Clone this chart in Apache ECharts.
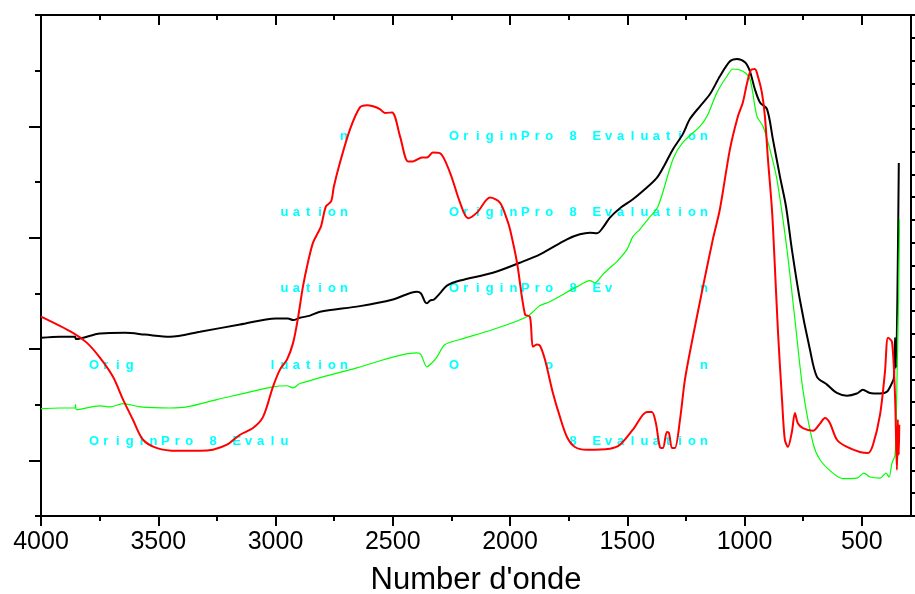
<!DOCTYPE html>
<html>
<head>
<meta charset="utf-8">
<script src="https://cdn.jsdelivr.net/npm/echarts@6/dist/echarts.min.js"></script>
<style>
html,body{margin:0;padding:0;background:#fff;}
#chart{width:915px;height:594px;}
</style>
</head>
<body>
<div id="chart"></div>
<script>
// Wavenumbers (cm-1) and signal values (arbitrary units, 0-90 full scale)
const blackWn = [4000,3919,3855,3851,3748,3642,3557,3450,3322,3151,2998,2947,2925,2896,2853,2810,2640,2499,2397,2380,2363,2354,2341,2324,2299,2269,2213,2073,1958,1872,1757,1702,1659,1629,1604,1574,1531,1476,1425,1373,1339,1305,1263,1233,1190,1147,1105,1062,1032,998,977,956,934,904,879,849,823,798,764,721,691,648,606,563,521,495,465,422,393,371,363,358,354,342];
const blackVal = [32.0,32.2,32.2,31.8,32.8,32.9,32.6,32.2,33.1,34.4,35.5,35.5,35.2,35.6,36.0,36.7,37.7,38.9,40.3,40.0,38.5,38.2,38.7,38.9,40.0,41.4,42.3,43.7,45.5,47.0,49.7,50.6,50.9,50.8,51.8,53.6,55.3,56.9,58.7,60.8,63.2,65.9,68.6,71.3,73.6,75.8,79.0,81.7,82.1,81.5,79.9,76.7,74.3,73.1,67.7,61.0,55.6,47.9,38.9,29.9,25.0,23.6,22.1,21.6,22.0,22.7,22.1,22.0,22.3,23.9,24.8,32.0,26.6,63.4];

const greenWn = [4000,3919,3855,3853,3849,3748,3706,3650,3578,3450,3377,3250,3011,2951,2925,2896,2653,2397,2380,2354,2333,2311,2277,2213,2073,1928,1872,1830,1714,1659,1638,1604,1574,1544,1501,1476,1446,1412,1369,1305,1263,1190,1160,1117,1075,1049,1007,977,947,921,892,862,819,785,751,708,678,623,580,521,491,465,422,397,384,371,358,350,342,339];
const greenVal = [19.3,19.4,19.4,20.0,19.1,19.8,19.6,20.2,19.6,19.4,19.6,20.9,23.2,23.4,23.0,23.8,26.6,29.3,29.0,26.8,27.5,28.6,30.8,31.7,33.5,35.8,37.8,38.5,41.2,42.3,41.9,43.4,44.6,45.7,47.9,50.2,51.5,53.3,55.6,64.1,67.1,70.0,71.8,76.1,79.0,80.3,79.9,78.5,71.8,70.0,65.9,60.5,47.9,35.3,22.7,13.1,10.1,7.7,6.7,6.8,7.7,7.0,6.8,7.7,7.0,9.5,11.0,23.9,41.9,53.3];

const redWn = [4000,3864,3804,3748,3693,3650,3608,3565,3505,3420,3322,3267,3207,3151,3096,3053,3011,2981,2951,2925,2904,2883,2862,2840,2819,2806,2785,2763,2751,2725,2682,2640,2610,2584,2555,2533,2503,2469,2435,2414,2375,2354,2329,2299,2256,2213,2179,2141,2085,2043,2013,2000,1970,1936,1915,1902,1885,1872,1851,1817,1787,1757,1723,1672,1574,1531,1476,1416,1395,1378,1361,1348,1331,1322,1309,1297,1275,1254,1220,1177,1135,1105,1062,1028,1007,990,973,956,943,926,913,900,883,874,857,840,828,815,798,785,772,751,708,678,657,636,606,563,508,474,452,422,401,388,371,358,350,346,342,340];
const redVal = [35.8,32.9,31.1,28.4,25.0,20.9,17.3,13.7,12.2,11.7,11.7,11.9,12.8,14.6,15.8,17.8,23.2,26.3,28.1,31.1,35.6,41.2,45.5,49.1,50.9,52.0,55.6,56.5,59.2,63.5,69.5,73.4,73.8,73.6,73.1,72.4,72.5,68.2,63.7,63.7,64.4,64.4,65.3,65.2,61.7,56.3,53.5,54.5,57.2,56.3,53.3,51.5,45.5,36.2,35.8,30.4,30.8,30.6,28.1,22.1,17.8,14.2,12.4,11.9,12.1,12.8,15.5,18.7,18.7,16.7,12.4,12.2,15.1,14.9,12.2,12.2,17.3,24.5,32.2,41.2,49.7,55.1,65.9,71.8,74.3,77.6,80.1,80.3,79.0,76.1,71.8,64.1,55.1,47.9,32.9,20.9,13.7,12.4,15.1,18.5,16.6,15.8,15.3,16.6,17.6,16.7,13.7,12.4,11.5,11.3,12.8,18.2,25.9,32.0,31.3,21.4,8.3,17.3,11.0,16.4];

// Axis ticks
const xMajorTicks = [4000,3500,3000,2500,2000,1500,1000,500];
const xMinorTicks = [3750,3250,2750,2250,1750,1250,750];
const yMajorTicks = [10,30,50,70];
const xTitle = "Number d'onde";

// Watermark
const wmText = "OriginPro 8 Evaluation";
const wmRows = [136,212,288,365,441];
const wmCols = [90,450];
const wmPieces = [[0,0,21,21],[0,1,0,21],[1,0,16,21],[1,1,0,21],[2,0,16,21],[2,1,0,13],[2,1,21,21],
  [3,0,0,3],[3,0,15,21],[3,1,0,0],[3,1,8,8],[3,1,21,21],[4,0,0,16],[4,1,10,21]];

const zip = (a,b)=>a.map((v,i)=>[v,b[i]]);

const graphics = [];
wmPieces.forEach(p=>{
  for(let i=p[2];i<=p[3];i++){
    const ch = wmText[i];
    if(ch===' ') continue;
    graphics.push({type:'text', x: wmCols[p[1]] + 4 + i*11.9, y: wmRows[p[0]], z: 0, silent:true,
      style:{text: ch, fill:'#00ffff', font:'bold 13px "Liberation Sans", Arial, sans-serif',
        align:'center', verticalAlign:'middle', textAlign:'center', textVerticalAlign:'middle'}});
  }
});

const xBase = {type:'value', min:290, max:4000, inverse:true, splitLine:{show:false}};
const lineStyleAx = {color:'#000', width:2};

const chart = echarts.init(document.getElementById('chart'), null, {renderer:'canvas'});
chart.setOption({
  animation:false,
  backgroundColor:'#fff',
  graphic: graphics,
  grid:{left:41, right:4, top:15, bottom:78, containLabel:false, outerBoundsMode:'none'},
  xAxis:[
    Object.assign({}, xBase, {position:'bottom',
      axisLine:{show:true, onZero:false, lineStyle:lineStyleAx},
      axisTick:{show:true, inside:false, length:10, customValues:xMajorTicks, lineStyle:{color:'#000', width:2}},
      axisLabel:{show:true, customValues:xMajorTicks, margin:14, color:'#000', fontSize:25,
        fontFamily:'"Liberation Sans", Arial, sans-serif', formatter:(v)=>String(v)},
      name:xTitle, nameLocation:'middle', nameGap:49,
      nameTextStyle:{color:'#000', fontSize:31, fontFamily:'"Liberation Sans", Arial, sans-serif'}}),
    Object.assign({}, xBase, {position:'bottom',
      axisLine:{show:false, onZero:false},
      axisTick:{show:true, inside:false, length:5, customValues:xMinorTicks, lineStyle:{color:'#000', width:2}},
      axisLabel:{show:false}}),
    Object.assign({}, xBase, {position:'top',
      axisLine:{show:true, onZero:false, lineStyle:lineStyleAx},
      axisTick:{show:true, inside:true, length:10, customValues:xMajorTicks, lineStyle:{color:'#000', width:2}},
      axisLabel:{show:false}}),
    Object.assign({}, xBase, {position:'top',
      axisLine:{show:false, onZero:false},
      axisTick:{show:true, inside:true, length:5, customValues:xMinorTicks, lineStyle:{color:'#000', width:2}},
      axisLabel:{show:false}})
  ],
  yAxis:[
    {type:'value', position:'left', min:0, max:90, interval:10, splitLine:{show:false},
      axisLine:{show:true, onZero:false, lineStyle:lineStyleAx},
      axisTick:{show:true, inside:false, length:6, lineStyle:{color:'#000', width:2}},
      axisLabel:{show:false}},
    {type:'value', position:'left', min:0, max:90, splitLine:{show:false},
      axisLine:{show:false, onZero:false},
      axisTick:{show:true, inside:false, length:12, customValues:yMajorTicks, lineStyle:{color:'#000', width:2}},
      axisLabel:{show:false}},
    {type:'value', position:'right', min:0, max:22, interval:1, splitLine:{show:false},
      axisLine:{show:true, onZero:false, lineStyle:lineStyleAx},
      axisTick:{show:true, inside:false, length:4, lineStyle:{color:'#000', width:2}},
      axisLabel:{show:false}}
  ],
  series:[
    {type:'line', name:'black', data:zip(blackWn,blackVal), xAxisIndex:0, yAxisIndex:0, showSymbol:false, symbol:'none',
      smooth:0.3, lineStyle:{color:'#000', width:2}, z:3},
    {type:'line', name:'green', data:zip(greenWn,greenVal), xAxisIndex:0, yAxisIndex:0, showSymbol:false, symbol:'none',
      smooth:0.3, lineStyle:{color:'#00ff00', width:1.2}, z:3},
    {type:'line', name:'red', data:zip(redWn,redVal), xAxisIndex:0, yAxisIndex:0, showSymbol:false, symbol:'none',
      smooth:0.3, lineStyle:{color:'#ff0000', width:2}, z:4}
  ]
});
</script>
</body>
</html>
